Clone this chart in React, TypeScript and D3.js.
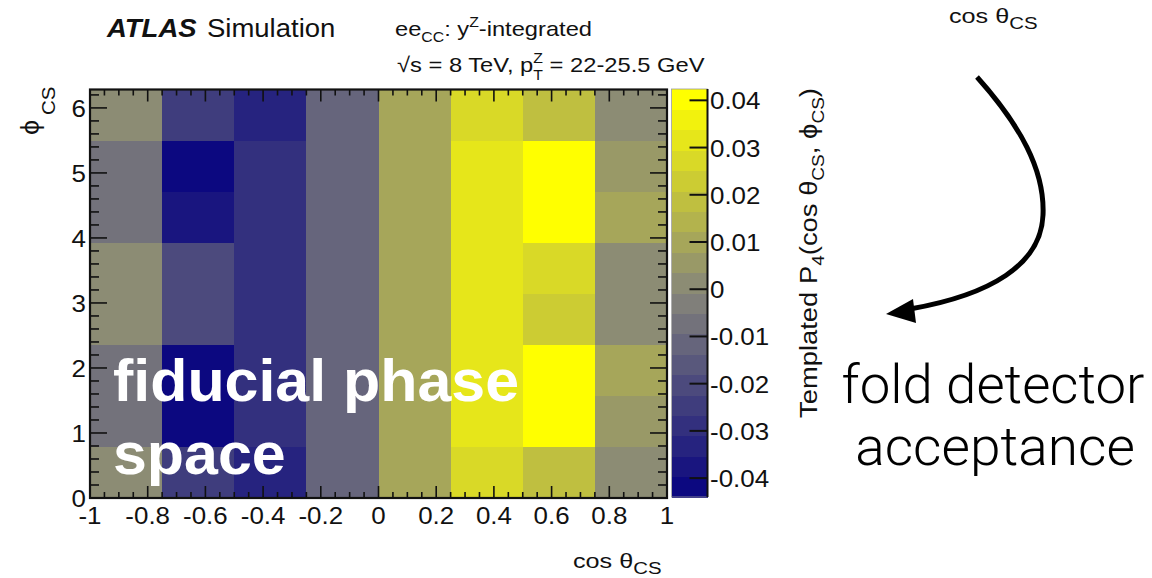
import React from "react";
import * as d3 from "d3";

// Bin edges of the templated P4 histogram
const cosEdges = [-1, -0.75, -0.5, -0.25, 0, 0.25, 0.5, 0.75, 1];
const phiEdges = [
  0,
  Math.PI / 4,
  Math.PI / 2,
  (3 * Math.PI) / 4,
  Math.PI,
  (5 * Math.PI) / 4,
  (3 * Math.PI) / 2,
  (7 * Math.PI) / 4,
  2 * Math.PI,
];

// Bin contents, one array per phi bin (bottom to top), one entry per cos bin
const phiBin0 = [0.0014, -0.0245, -0.0332, -0.0116, 0.01, 0.0273, 0.0187, 0.0014];
const phiBin1 = [-0.0073, -0.044, -0.0289, -0.0116, 0.01, 0.0316, 0.0424, 0.0057];
const phiBin2 = [-0.0073, -0.0421, -0.0289, -0.0116, 0.01, 0.0316, 0.041, 0.01];
const phiBin3 = [0.0014, -0.0202, -0.0289, -0.0116, 0.01, 0.0316, 0.023, 0.0014];
const phiBin4 = [0.0014, -0.0202, -0.0289, -0.0116, 0.01, 0.0316, 0.0273, 0.0014];
const phiBin5 = [-0.0073, -0.0375, -0.0289, -0.0116, 0.01, 0.0316, 0.0412, 0.01];
const phiBin6 = [-0.0073, -0.0425, -0.0289, -0.0116, 0.01, 0.0316, 0.0418, 0.0057];
const phiBin7 = [0.0014, -0.0245, -0.0332, -0.0116, 0.01, 0.0273, 0.0187, 0.0014];
const binContents = [phiBin0, phiBin1, phiBin2, phiBin3, phiBin4, phiBin5, phiBin6, phiBin7];

// Axis tick labels
const cosTicks = [-1, -0.8, -0.6, -0.4, -0.2, 0, 0.2, 0.4, 0.6, 0.8, 1];
const phiTicks = [0, 1, 2, 3, 4, 5, 6];
const zTicks = [-0.04, -0.03, -0.02, -0.01, 0, 0.01, 0.02, 0.03, 0.04];

const nContours = 20;
const paletteStops = ["#0c0880", "#86867a", "#ffff00"];

const ROOT_FONT = "'Liberation Sans', Arial, Helvetica, sans-serif";
const SLIDE_FONT = "'Liberation Sans', Helvetica, Arial, sans-serif";
const LIGHT_FONT = "Roboto, 'Liberation Sans', sans-serif";
const STRETCH = 1.08;

// plot geometry
const plot = { left: 90, right: 667, top: 89.5, bottom: 498 };
const bar = { left: 671.5, right: 707.5, top: 89, bottom: 497 };

function Label(props: {
  x: number;
  y: number;
  size: number;
  anchor?: "start" | "middle" | "end";
  sx?: number;
  rotate?: number;
  fill?: string;
  weight?: string | number;
  italic?: boolean;
  family?: string;
  length?: number;
  children: React.ReactNode;
}) {
  const {
    x,
    y,
    size,
    anchor = "start",
    sx = STRETCH,
    rotate = 0,
    fill = "#111",
    weight = "normal",
    italic = false,
    family = ROOT_FONT,
    length,
  } = props;
  return (
    <text
      transform={`translate(${x},${y}) rotate(${rotate}) scale(${sx},1)`}
      fontSize={size}
      textAnchor={anchor}
      fill={fill}
      fontWeight={weight}
      fontStyle={italic ? "italic" : "normal"}
      fontFamily={family}
      textLength={length}
      lengthAdjust={length ? "spacingAndGlyphs" : undefined}
    >
      {props.children}
    </text>
  );
}

export default function App() {
  const x = d3.scaleLinear().domain([-1, 1]).range([plot.left, plot.right]);
  const y = d3.scaleLinear().domain([0, 2 * Math.PI]).range([plot.bottom, plot.top]);

  const allValues = binContents.flat();
  const [zMin, zMax] = d3.extent(allValues) as [number, number];
  const z = d3.scaleLinear().domain([zMin, zMax]).range([bar.bottom, bar.top]);
  const palette = d3.piecewise(d3.interpolateRgb, paletteStops);
  const dz = (zMax - zMin) / nContours;
  const bandOf = (v: number) => Math.min(nContours - 1, Math.max(0, Math.floor((v - zMin) / dz)));
  const bandColor = (b: number) => palette(b / (nContours - 1));

  const cells = binContents.flatMap((row, r) =>
    row.map((v, c) => ({
      x0: x(cosEdges[c]),
      x1: x(cosEdges[c + 1]),
      y0: y(phiEdges[r + 1]),
      y1: y(phiEdges[r]),
      color: bandColor(bandOf(v)),
      key: `${r}-${c}`,
    }))
  );

  const xMinor = d3.range(-1, 1.0001, 0.05);
  const yMinor = d3.range(0, 6.2001, 0.2);

  const bands = d3.range(nContours).map((b) => ({
    y0: z(zMin + (b + 1) * dz),
    y1: z(zMin + b * dz),
    color: bandColor(b),
  }));

  return (
    <svg
      width={1152}
      height={578}
      style={{ position: "absolute", left: 0, top: 0, background: "#fff" }}
    >
      {/* heatmap cells */}
      <g shapeRendering="crispEdges">
        {cells.map((d) => (
          <rect key={d.key} x={d.x0} y={d.y0} width={d.x1 - d.x0 + 0.5} height={d.y1 - d.y0 + 0.5} fill={d.color} />
        ))}
      </g>

      {/* ticks */}
      <g stroke="#111" strokeWidth={1.6}>
        {xMinor.map((v, i) => {
          const major = i % 4 === 0;
          const len = major ? 12 : 6;
          return (
            <g key={`xt${i}`}>
              <line x1={x(v)} x2={x(v)} y1={plot.bottom} y2={plot.bottom - len} />
              <line x1={x(v)} x2={x(v)} y1={plot.top} y2={plot.top + len} />
            </g>
          );
        })}
        {yMinor.map((v, i) => {
          const major = i % 5 === 0;
          const len = major ? 17 : 9;
          return (
            <g key={`yt${i}`}>
              <line x1={plot.left} x2={plot.left + len} y1={y(v)} y2={y(v)} />
              <line x1={plot.right} x2={plot.right - len} y1={y(v)} y2={y(v)} />
            </g>
          );
        })}
      </g>

      {/* frame */}
      <rect
        x={plot.left}
        y={plot.top}
        width={plot.right - plot.left}
        height={plot.bottom - plot.top}
        fill="none"
        stroke="#111"
        strokeWidth={2.2}
      />

      {/* x tick labels */}
      {cosTicks.map((v) => (
        <Label key={`xl${v}`} x={x(v)} y={524} size={24} anchor="middle">
          {String(v)}
        </Label>
      ))}
      {/* y tick labels */}
      {phiTicks.map((v) => (
        <Label key={`yl${v}`} x={86} y={y(v) + 9} size={24} anchor="end">
          {String(v)}
        </Label>
      ))}

      {/* colour bar */}
      <g shapeRendering="crispEdges">
        {bands.map((b, i) => (
          <rect key={`b${i}`} x={bar.left} y={b.y0} width={bar.right - bar.left} height={b.y1 - b.y0 + 0.5} fill={b.color} />
        ))}
      </g>
      <rect
        x={bar.left}
        y={bar.top}
        width={bar.right - bar.left}
        height={bar.bottom - bar.top}
        fill="none"
        stroke="#999"
        strokeWidth={0.8}
      />
      <line x1={bar.right} x2={bar.right} y1={bar.top} y2={bar.bottom} stroke="#111" strokeWidth={2} />
      {zTicks.map((v) => (
        <g key={`zt${v}`}>
          <line x1={bar.right - 18} x2={bar.right} y1={z(v)} y2={z(v)} stroke="#111" strokeWidth={2} />
          <Label x={710} y={z(v) + 9} size={24}>
            {String(v)}
          </Label>
        </g>
      ))}

      {/* axis titles */}
      <Label x={573} y={568} size={21} sx={1.2}>
        cos θ
        <tspan fontSize={17} dy={6}>CS</tspan>
      </Label>
      <Label x={39} y={135} size={25} rotate={-90}>
        ϕ
      </Label>
      <Label x={55} y={115} size={19} rotate={-90}>
        CS
      </Label>
      <Label x={817} y={418} size={23} rotate={-90} sx={1} length={330}>
        Templated P<tspan fontSize={16} dy={7}>4</tspan>
        <tspan dy={-7}>(cos θ</tspan>
        <tspan fontSize={16} dy={7}>CS</tspan>
        <tspan dy={-7}>, ϕ</tspan>
        <tspan fontSize={16} dy={7}>CS</tspan>
        <tspan dy={-7}>)</tspan>
      </Label>

      {/* header */}
      <Label x={107} y={37} size={25} weight="bold" italic sx={1.1}>
        ATLAS
      </Label>
      <Label x={207} y={37} size={25} sx={1.1}>
        Simulation
      </Label>
      <Label x={395} y={36} size={21} sx={1} length={197}>
        ee<tspan fontSize={14} dy={6}>CC</tspan>
        <tspan dy={-6}>: y</tspan>
        <tspan fontSize={14} dy={-9}>Z</tspan>
        <tspan dy={9}>-integrated</tspan>
      </Label>
      <Label x={397} y={72} size={21} sx={1.13}>
        √s = 8 TeV, p<tspan fontSize={14} dy={-9}>Z</tspan>
        <tspan fontSize={14} dx={-8.5} dy={17}>T</tspan>
        <tspan dy={-8}> = 22-25.5 GeV</tspan>
      </Label>

      {/* overlay annotations */}
      <Label x={113} y={401} size={60} weight="bold" fill="#fff" family={SLIDE_FONT} sx={1.015}>
        fiducial phase
      </Label>
      <Label x={113} y={474} size={60} weight="bold" fill="#fff" family={SLIDE_FONT} sx={1.015}>
        space
      </Label>

      <Label x={949} y={23} size={21} sx={1.2}>
        cos θ<tspan fontSize={17} dy={6}>CS</tspan>
      </Label>

      <path
        d="M977,77 C1020,125 1045,170 1043,215 C1041,265 990,295 910,309"
        fill="none"
        stroke="#000"
        strokeWidth={5}
      />
      <polygon points="886,314 913,299 916,323" fill="#000" />

      <Label x={993} y={403} size={54} anchor="middle" fill="#000" family={LIGHT_FONT} weight={300} sx={1.01}>
        fold detector
      </Label>
      <Label x={995} y={465} size={54} anchor="middle" fill="#000" family={LIGHT_FONT} weight={300} sx={1.02}>
        acceptance
      </Label>
    </svg>
  );
}
